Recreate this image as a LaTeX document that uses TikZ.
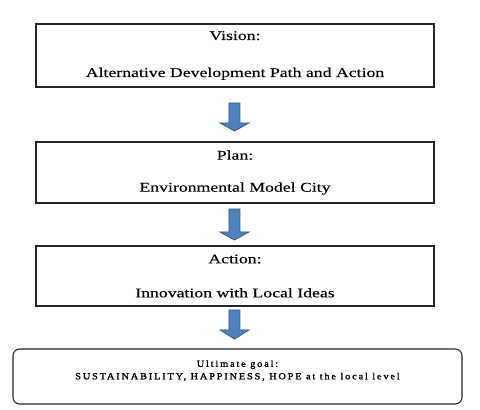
\documentclass[tikz,border=0pt]{standalone}
\usepackage{fontspec}
\setmainfont{Liberation Serif}
\newfontfamily\boxfont[FakeStretch=1.33,FakeBold=0.2]{Liberation Serif}
\newfontfamily\goalfont[FakeStretch=1.1,LetterSpace=20,FakeBold=1.8]{Liberation Serif}
\begin{document}
\begin{tikzpicture}[x=0.75pt,y=-0.75pt,
  box/.style={draw=black!85,line width=0.8pt,minimum width=298.5pt,align=center,inner sep=0pt},
  goalbox/.style={draw=black!85,line width=0.8pt,rounded corners=5pt,minimum width=336.75pt,minimum height=41.25pt,align=center,inner sep=0pt},
  blockarrow/.style={fill={rgb,255:red,79;green,129;blue,189},draw={rgb,255:red,56;green,93;blue,138},line width=0.6pt,line join=miter}]
\useasboundingbox (0,0) rectangle (480,410);
\node[box,minimum height=47.25pt,font=\boxfont\fontsize{10}{27.75}\selectfont] (vision) at (235,55.5) {Vision:\\Alternative Development Path and Action};
\node[box,minimum height=45.75pt,font=\boxfont\fontsize{10}{24}\selectfont] (plan) at (235,172.5) {Plan:\\Environmental Model City};
\node[box,minimum height=45pt,font=\boxfont\fontsize{10}{25.5}\selectfont] (action) at (235,276) {Action:\\Innovation with Local Ideas};
\node[goalbox,font=\goalfont\fontsize{7}{10.5}\selectfont] (goal) at (237.5,376.5) {\raisebox{10pt}{\shortstack{Ultimate goal:\\[0pt]SUSTAINABILITY, HAPPINESS, HOPE at the local level}}};
\foreach \t/\h/\b in {103/123/131, 209/232/240, 310/330/339}{
  \draw[blockarrow] (229,\t) -- (240,\t) -- (240,\h) -- (249,\h) -- (234.5,\b) -- (220,\h) -- (229,\h) -- cycle;
}
\end{tikzpicture}
\end{document}
